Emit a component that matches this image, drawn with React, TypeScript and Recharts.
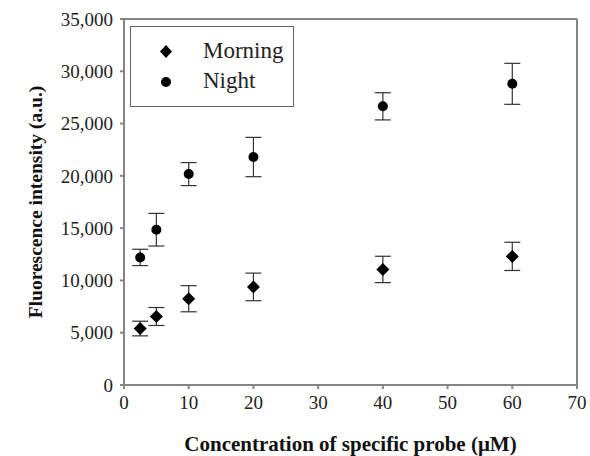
import React from 'react'
import {
  ScatterChart, Scatter, XAxis, YAxis, ErrorBar, ReferenceLine, Label,
} from 'recharts'

const FONT = "'Liberation Serif', 'DejaVu Serif', 'Times New Roman', serif"
const AXIS = '#858585'

const concentrations = [2.5, 5, 10, 20, 40, 60]
const morningValues = [5400, 6550, 8250, 9380, 11050, 12300]
const morningErrors = [700, 860, 1250, 1320, 1260, 1350]
const nightValues = [12200, 14850, 20170, 21800, 26650, 28800]
const nightErrors = [780, 1560, 1100, 1880, 1300, 1960]

const xTicks = [0, 10, 20, 30, 40, 50, 60, 70]
const yTicks = [0, 5000, 10000, 15000, 20000, 25000, 30000, 35000]

const morning = concentrations.map((x, i) => ({ x, y: morningValues[i], err: morningErrors[i] }))
const night = concentrations.map((x, i) => ({ x, y: nightValues[i], err: nightErrors[i] }))

const Diamond = ({ cx, cy }: any) => (
  <path d={`M${cx},${cy - 6.5} L${cx + 6.5},${cy} L${cx},${cy + 6.5} L${cx - 6.5},${cy} Z`} fill="#000" />
)

const Dot = ({ cx, cy }: any) => <circle cx={cx} cy={cy} r={5} fill="#000" />

// legend box drawn over the plot, top-left
const LegendBox = () => (
  <div
    style={{
      position: 'absolute', left: 130, top: 26, width: 162, height: 79,
      border: '1.5px solid #666', background: '#fff',
      fontFamily: FONT, fontSize: 23, color: '#222', lineHeight: '26px',
    }}
  >
    <svg width={20} height={80} style={{ position: 'absolute', left: 25, top: 0 }}>
      <path d="M10,18 L16,24.5 L10,31 L4,24.5 Z" fill="#000" />
      <circle cx={10} cy={55} r={5} fill="#000" />
    </svg>
    <div style={{ position: 'absolute', left: 72, top: 11 }}>Morning</div>
    <div style={{ position: 'absolute', left: 72, top: 41 }}>Night</div>
  </div>
)

export default function App() {
  return (
    <div style={{ position: 'absolute', left: 0, top: 0, width: 590, height: 456, background: '#fff' }}>
      <ScatterChart width={590} height={456} margin={{ top: 19, right: 13, bottom: 0, left: 0 }}>
        <XAxis
          type="number"
          dataKey="x"
          domain={[0, 70]}
          ticks={xTicks}
          interval={0}
          height={71}
          stroke={AXIS}
          strokeWidth={2}
          tickSize={4}
          tickMargin={7}
          tick={{ fontFamily: FONT, fontSize: 19, fill: '#222' }}
        >
          <Label
            value="Concentration of specific probe (μM)"
            position="insideBottom"
            offset={5}
            style={{ fontFamily: FONT, fontSize: 21, fontWeight: 'bold', fill: '#111' }}
          />
        </XAxis>
        <YAxis
          type="number"
          dataKey="y"
          domain={[0, 35000]}
          ticks={yTicks}
          interval={0}
          width={124}
          stroke={AXIS}
          strokeWidth={2}
          tickSize={4}
          tickMargin={7}
          tickFormatter={(v) => v.toLocaleString('en-US')}
          tick={{ fontFamily: FONT, fontSize: 19, fill: '#222' }}
        >
          <Label
            value="Fluorescence intensity (a.u.)"
            angle={-90}
            position="insideLeft"
            offset={35}
            style={{ fontFamily: FONT, fontSize: 19.5, fontWeight: 'bold', fill: '#111', textAnchor: 'middle' }}
          />
        </YAxis>
        <ReferenceLine y={35000} stroke={AXIS} strokeWidth={2} />
        <ReferenceLine x={70} stroke={AXIS} strokeWidth={2} />
        <Scatter name="Morning" data={morning} shape={<Diamond />} isAnimationActive={false}>
          <ErrorBar dataKey="err" direction="y" width={8} stroke="#333" strokeWidth={1.2} />
        </Scatter>
        <Scatter name="Night" data={night} shape={<Dot />} isAnimationActive={false}>
          <ErrorBar dataKey="err" direction="y" width={8} stroke="#333" strokeWidth={1.2} />
        </Scatter>
      </ScatterChart>
      <LegendBox />
    </div>
  )
}
